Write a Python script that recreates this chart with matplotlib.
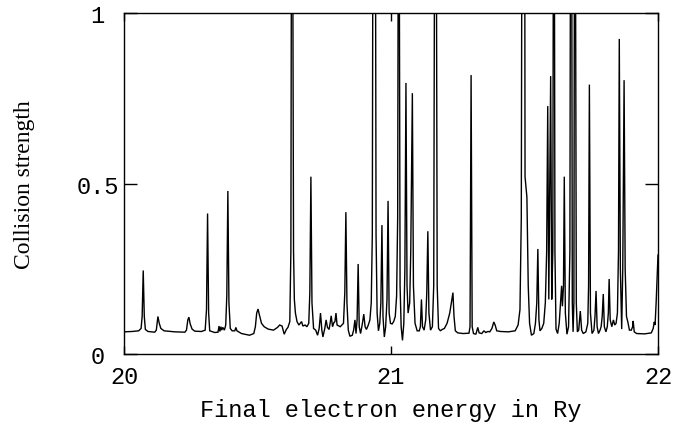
import matplotlib
matplotlib.use("Agg")
import matplotlib.pyplot as plt

# Vertices of the collision-strength curve (energy in Ry, collision strength)
energy = [
    20.000, 20.030, 20.055, 20.064, 20.068, 20.072, 20.076, 20.080, 20.090, 20.115,
    20.121, 20.127, 20.132, 20.138, 20.150, 20.190, 20.228, 20.234, 20.239, 20.243,
    20.248, 20.255, 20.265, 20.290, 20.304, 20.309, 20.313, 20.317, 20.321, 20.340,
    20.352, 20.356, 20.359, 20.363, 20.366, 20.370, 20.376, 20.381, 20.385, 20.389,
    20.393, 20.398, 20.405, 20.415, 20.419, 20.423, 20.440, 20.470, 20.486, 20.492,
    20.497, 20.502, 20.507, 20.515, 20.525, 20.540, 20.560, 20.575, 20.583, 20.592,
    20.600, 20.608, 20.614, 20.621, 20.625, 20.627, 20.632, 20.635, 20.638, 20.642,
    20.648, 20.655, 20.660, 20.665, 20.670, 20.678, 20.685, 20.692, 20.696, 20.700,
    20.704, 20.710, 20.718, 20.725, 20.731, 20.736, 20.741, 20.745, 20.752, 20.757,
    20.762, 20.768, 20.772, 20.776, 20.781, 20.786, 20.790, 20.794, 20.798, 20.810,
    20.822, 20.827, 20.831, 20.835, 20.840, 20.846, 20.855, 20.860, 20.865, 20.869,
    20.873, 20.877, 20.881, 20.886, 20.893, 20.898, 20.903, 20.908, 20.915, 20.921,
    20.926, 20.930, 20.932, 20.942, 20.944, 20.948, 20.953, 20.958, 20.962, 20.966,
    20.970, 20.975, 20.980, 20.985, 20.989, 20.993, 20.998, 21.004, 21.010, 21.016,
    21.021, 21.025, 21.027, 21.031, 21.034, 21.038, 21.043, 21.048, 21.052, 21.056,
    21.060, 21.064, 21.070, 21.074, 21.080, 21.084, 21.090, 21.098, 21.106, 21.110,
    21.114, 21.118, 21.124, 21.130, 21.134, 21.138, 21.142, 21.148, 21.155, 21.160,
    21.163, 21.170, 21.173, 21.178, 21.185, 21.192, 21.200, 21.210, 21.220, 21.226,
    21.232, 21.236, 21.241, 21.250, 21.270, 21.292, 21.296, 21.300, 21.304, 21.309,
    21.318, 21.325, 21.330, 21.340, 21.348, 21.355, 21.363, 21.370, 21.378, 21.385,
    21.390, 21.396, 21.410, 21.440, 21.465, 21.476, 21.483, 21.488, 21.490, 21.501,
    21.502, 21.509, 21.514, 21.519, 21.526, 21.535, 21.541, 21.546, 21.550, 21.554,
    21.558, 21.565, 21.572, 21.578, 21.583, 21.587, 21.591, 21.598, 21.602, 21.606,
    21.608, 21.612, 21.614, 21.618, 21.624, 21.630, 21.635, 21.639, 21.642, 21.646,
    21.649, 21.653, 21.659, 21.665, 21.670, 21.672, 21.677, 21.679, 21.682, 21.685,
    21.687, 21.691, 21.694, 21.698, 21.703, 21.709, 21.714, 21.720, 21.730, 21.737,
    21.740, 21.743, 21.747, 21.753, 21.760, 21.764, 21.768, 21.772, 21.777, 21.783,
    21.787, 21.791, 21.795, 21.799, 21.805, 21.810, 21.814, 21.817, 21.821, 21.827,
    21.833, 21.838, 21.843, 21.848, 21.852, 21.855, 21.859, 21.864, 21.868, 21.873,
    21.877, 21.882, 21.887, 21.893, 21.900, 21.905, 21.907, 21.911, 21.920, 21.950,
    21.975, 21.982, 21.986, 21.989, 21.993, 22.000,
]
strength = [
    0.065, 0.066, 0.068, 0.075, 0.110, 0.245, 0.110, 0.072, 0.066, 0.064,
    0.070, 0.110, 0.090, 0.075, 0.068, 0.065, 0.064, 0.070, 0.100, 0.108,
    0.088, 0.073, 0.067, 0.066, 0.070, 0.130, 0.412, 0.120, 0.068, 0.063,
    0.064, 0.082, 0.066, 0.080, 0.070, 0.078, 0.070, 0.085, 0.170, 0.478,
    0.150, 0.075, 0.068, 0.068, 0.078, 0.068, 0.060, 0.055, 0.060, 0.080,
    0.120, 0.132, 0.115, 0.090, 0.080, 0.073, 0.070, 0.078, 0.085, 0.082,
    0.058, 0.072, 0.078, 0.095, 0.300, 1.200, 1.200, 0.300, 0.160, 0.120,
    0.095, 0.085, 0.090, 0.095, 0.082, 0.085, 0.080, 0.090, 0.180, 0.520,
    0.150, 0.075, 0.070, 0.055, 0.075, 0.120, 0.070, 0.050, 0.075, 0.100,
    0.078, 0.072, 0.090, 0.112, 0.080, 0.092, 0.095, 0.120, 0.085, 0.080,
    0.090, 0.180, 0.416, 0.150, 0.070, 0.052, 0.055, 0.070, 0.100, 0.060,
    0.100, 0.264, 0.080, 0.060, 0.090, 0.117, 0.080, 0.072, 0.085, 0.100,
    0.150, 0.350, 1.200, 1.200, 0.350, 0.120, 0.068, 0.090, 0.150, 0.378,
    0.110, 0.050, 0.080, 0.160, 0.449, 0.120, 0.090, 0.088, 0.095, 0.110,
    0.170, 0.400, 1.200, 1.200, 0.200, 0.080, 0.040, 0.090, 0.250, 0.795,
    0.200, 0.120, 0.150, 0.300, 0.765, 0.200, 0.090, 0.068, 0.068, 0.080,
    0.160, 0.080, 0.070, 0.100, 0.180, 0.360, 0.120, 0.070, 0.080, 0.200,
    1.200, 1.200, 0.200, 0.075, 0.068, 0.072, 0.075, 0.090, 0.120, 0.150,
    0.180, 0.110, 0.068, 0.062, 0.060, 0.061, 0.080, 0.818, 0.080, 0.060,
    0.058, 0.078, 0.062, 0.060, 0.068, 0.063, 0.066, 0.065, 0.075, 0.094,
    0.085, 0.068, 0.066, 0.065, 0.068, 0.085, 0.130, 0.400, 1.200, 1.200,
    0.520, 0.460, 0.200, 0.090, 0.055, 0.060, 0.090, 0.150, 0.308, 0.100,
    0.068, 0.075, 0.090, 0.150, 0.300, 0.727, 0.160, 0.815, 0.160, 0.300,
    1.200, 1.200, 0.300, 0.073, 0.060, 0.090, 0.150, 0.200, 0.140, 0.200,
    0.520, 0.120, 0.058, 0.080, 0.300, 1.200, 1.200, 0.150, 0.065, 0.150,
    1.200, 1.200, 0.150, 0.065, 0.070, 0.126, 0.070, 0.060, 0.065, 0.090,
    0.200, 0.790, 0.120, 0.060, 0.070, 0.110, 0.185, 0.080, 0.060, 0.070,
    0.080, 0.110, 0.176, 0.080, 0.065, 0.080, 0.120, 0.220, 0.100, 0.080,
    0.100, 0.085, 0.090, 0.120, 0.300, 0.924, 0.250, 0.073, 0.250, 0.803,
    0.250, 0.110, 0.094, 0.070, 0.070, 0.080, 0.097, 0.065, 0.060, 0.059,
    0.062, 0.075, 0.094, 0.085, 0.150, 0.290,
]

x_ticks = [20, 21, 22]
x_tick_labels = ["20", "21", "22"]
y_ticks = [0, 0.5, 1]
y_tick_labels = ["0", "0.5", "1"]

fig = plt.figure(figsize=(6.75, 4.27), dpi=100)
ax = fig.add_axes([124 / 675, 72 / 427, 534 / 675, 341 / 427])

ax.plot(energy, strength, color="black", linewidth=1.0, solid_joinstyle="miter")
ax.set_xlim(20, 22)
ax.set_ylim(0, 1)

mono = "Liberation Mono"
ax.set_xticks(x_ticks)
ax.set_xticklabels(x_tick_labels, fontfamily=mono, fontsize=17)
ax.set_yticks(y_ticks)
ax.set_yticklabels(y_tick_labels, fontfamily=mono, fontsize=17)
for lab in ax.get_yticklabels():
    lab.set_horizontalalignment("center")
ax.tick_params(axis="x", direction="in", length=6, width=1, top=True, pad=8)
ax.tick_params(axis="y", direction="in", length=9.5, width=1, right=True, pad=19)

for s in ax.spines.values():
    s.set_linewidth(1.0)
    s.set_color("black")

ax.set_xlabel("Final electron energy in Ry", fontfamily=mono, fontsize=17, labelpad=7)
ax.set_ylabel("Collision strength", fontfamily="Liberation Serif", fontsize=17, labelpad=30)

fig.savefig("out.png", dpi=100)
